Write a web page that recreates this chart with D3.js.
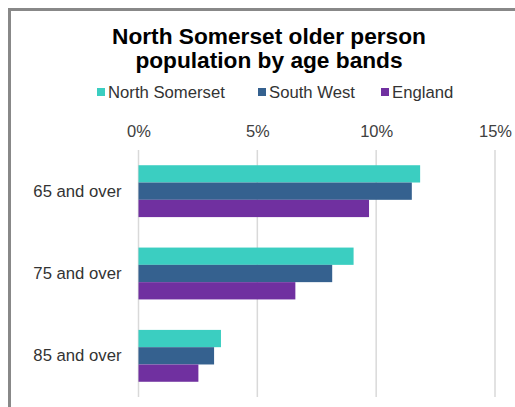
<!DOCTYPE html>
<html>
<head>
<meta charset="utf-8">
<script src="https://cdn.jsdelivr.net/npm/d3@7"></script>
<style>
html,body{margin:0;padding:0;background:#fff;}
svg{display:block;font-family:"Liberation Sans",Arial,sans-serif;}
</style>
</head>
<body>
<svg id="chart" width="515" height="407"></svg>
<script>
const categories = ["65 and over", "75 and over", "85 and over"];
const seriesNames = ["North Somerset", "South West", "England"];
const northSomerset = [11.85, 9.05, 3.47];
const southWest = [11.5, 8.15, 3.18];
const england = [9.7, 6.6, 2.52];
const tickValues = [0, 5, 10, 15];
const colors = ["#3BCEC1", "#35618F", "#7030A0"];

const seriesValues = [northSomerset, southWest, england];
const svg = d3.select("#chart");

// frame
svg.append("rect").attr("x", 9.5).attr("y", 9.5).attr("width", 700).attr("height", 700)
  .attr("fill", "#fff").attr("stroke", "#888").attr("stroke-width", 3);

// title
const title = svg.append("text").attr("text-anchor", "middle")
  .attr("font-size", 22.7).attr("font-weight", "bold").attr("fill", "#000");
title.append("tspan").attr("x", 269).attr("y", 44).text("North Somerset older person");
title.append("tspan").attr("x", 269).attr("y", 68).text("population by age bands");

// legend
const legendX = [97, 258, 381];
const lg = svg.append("g").selectAll("g").data(seriesNames).join("g")
  .attr("transform", (d, i) => `translate(${legendX[i]},0)`);
lg.append("rect").attr("x", 0).attr("y", 88).attr("width", 8).attr("height", 8)
  .attr("fill", (d, i) => colors[i]);
lg.append("text").attr("x", 11).attr("y", 98).attr("font-size", 16.7).attr("fill", "#333").text(d => d);

// scales
const x = d3.scaleLinear().domain([0, 15]).range([138.5, 495]);
const y = d3.scaleBand().domain(categories).range([150, 397]).paddingInner(0.37).paddingOuter(0.185);
const ySub = d3.scaleBand().domain(seriesNames).range([0, y.bandwidth()]);

// x axis labels
const xAxis = d3.axisTop(x).tickValues(tickValues).tickFormat(d => d + "%").tickSize(0).tickPadding(0);
const gx = svg.append("g").attr("transform", "translate(0,137)").call(xAxis);
gx.select(".domain").remove();
gx.selectAll("text").attr("font-size", 16.5).attr("fill", "#404040")
  .attr("font-family", "Liberation Sans, Arial, sans-serif");

// gridlines
svg.append("g").selectAll("line").data(tickValues).join("line")
  .attr("x1", d => x(d)).attr("x2", d => x(d)).attr("y1", 150).attr("y2", 397)
  .attr("stroke", "#d9d9d9").attr("stroke-width", 1.5);

// bars
const groups = svg.append("g").selectAll("g").data(categories).join("g")
  .attr("transform", d => `translate(0,${y(d)})`);
groups.selectAll("rect").data((c, ci) => seriesNames.map((s, si) => ({s, si, v: seriesValues[si][ci]})))
  .join("rect")
  .attr("x", x(0)).attr("y", d => ySub(d.s))
  .attr("width", d => x(d.v) - x(0)).attr("height", ySub.bandwidth())
  .attr("fill", d => colors[d.si]);

// category axis
const yAxis = d3.axisLeft(y).tickSize(0).tickPadding(17);
const gy = svg.append("g").attr("transform", `translate(${x(0)},0)`).call(yAxis);
gy.select(".domain").remove();
gy.selectAll("text").attr("font-size", 16.7).attr("fill", "#333")
  .attr("font-family", "Liberation Sans, Arial, sans-serif");
</script>
</body>
</html>
